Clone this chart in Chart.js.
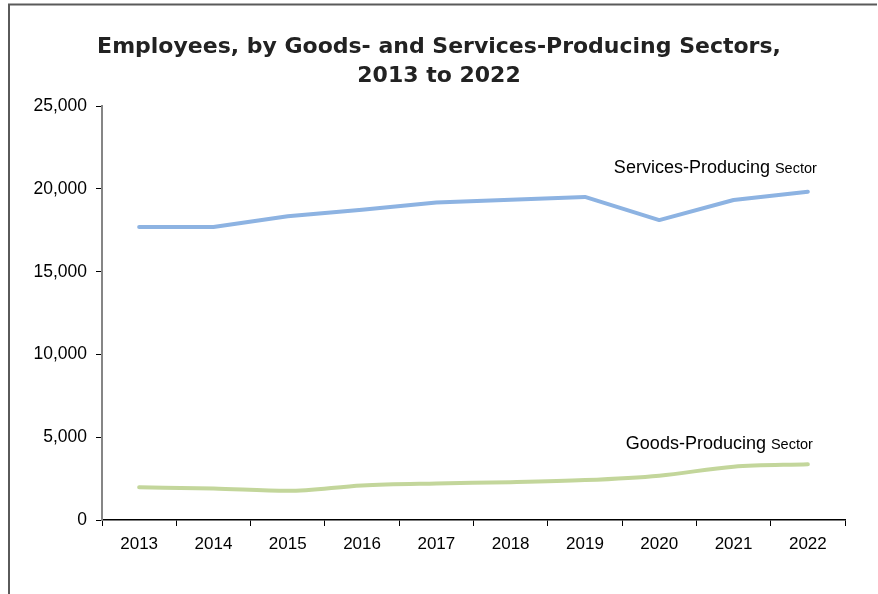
<!DOCTYPE html>
<html>
<head>
<meta charset="utf-8">
<script src="https://cdn.jsdelivr.net/npm/chart.js@4.4.1/dist/chart.umd.min.js"></script>
<style>
  html, body { margin: 0; padding: 0; background: #fff; }
  #wrap { width: 878px; height: 594px; position: relative; }
</style>
</head>
<body>
<div id="wrap"><canvas id="c" width="878" height="594"></canvas></div>
<script>
const years = ['2013','2014','2015','2016','2017','2018','2019','2020','2021','2022'];
const servicesProducing = [17700, 17700, 18350, 18750, 19180, 19350, 19520, 18120, 19330, 19830];
const goodsProducing = [1980, 1900, 1760, 2090, 2210, 2280, 2410, 2680, 3220, 3370];
const yTicks = [0, 5000, 10000, 15000, 20000, 25000];
const titleLines = ['Employees, by Goods- and Services-Producing Sectors,', '2013 to 2022'];

const frameAndLabels = {
  id: 'frameAndLabels',
  beforeDraw(chart) {
    const ctx = chart.ctx;
    ctx.save();
    ctx.strokeStyle = '#5a5a5a';
    ctx.lineWidth = 2;
    ctx.beginPath();
    ctx.moveTo(9, 600);
    ctx.lineTo(9, 4.5);
    ctx.lineTo(877, 4.5);
    ctx.stroke();
    ctx.restore();
  },
  afterDatasetsDraw(chart) {
    const ctx = chart.ctx;
    const xs = chart.scales.x, ys = chart.scales.y;
    const xLast = xs.getPixelForValue(years.length - 1);
    const bigFont = '18px "Liberation Sans", Arial, sans-serif';
    const smallFont = '14.5px "Liberation Sans", Arial, sans-serif';
    function label(big, small, yVal, dx) {
      const y = ys.getPixelForValue(yVal);
      ctx.save();
      ctx.fillStyle = '#000';
      ctx.textBaseline = 'alphabetic';
      ctx.textAlign = 'left';
      ctx.font = bigFont;
      const w1 = ctx.measureText(big).width;
      ctx.font = smallFont;
      const w2 = ctx.measureText(small).width;
      const x0 = xLast + dx - w1 - w2;
      ctx.font = bigFont;
      ctx.fillText(big, x0, y);
      ctx.font = smallFont;
      ctx.fillText(small, x0 + w1, y);
      ctx.restore();
    }
    label('Services-Producing ', 'Sector', 20980, 9);
    label('Goods-Producing ', 'Sector', 4290, 5);
  }
};

new Chart(document.getElementById('c'), {
  type: 'line',
  data: {
    labels: years,
    datasets: [
      {
        label: 'Services-Producing Sector',
        data: servicesProducing,
        borderColor: '#8db3e2',
        borderWidth: 4,
        pointRadius: 0,
        tension: 0,
        borderCapStyle: 'round',
        borderJoinStyle: 'round'
      },
      {
        label: 'Goods-Producing Sector',
        data: goodsProducing,
        borderColor: '#c3d69b',
        borderWidth: 4,
        pointRadius: 0,
        cubicInterpolationMode: 'monotone',
        borderCapStyle: 'round',
        borderJoinStyle: 'round'
      }
    ]
  },
  options: {
    responsive: false,
    animation: false,
    layout: { padding: { top: 33, right: 0, bottom: 31, left: 0 } },
    plugins: {
      legend: { display: false },
      tooltip: { enabled: false },
      title: {
        display: true,
        text: titleLines,
        color: '#222222',
        font: { family: '"DejaVu Sans", sans-serif', size: 22, weight: 'bold', lineHeight: 1.3 },
        padding: { top: 0, bottom: 16 }
      }
    },
    scales: {
      x: {
        offset: true,
        grid: { offset: true, drawOnChartArea: false, drawTicks: true, tickLength: 6, color: '#000', lineWidth: 1 },
        border: { display: true, color: '#000', width: 1.5 },
        ticks: { color: '#000', padding: 8, maxRotation: 0, font: { family: '"Liberation Sans", Arial, sans-serif', size: 17 } },
        afterFit(scale) { scale.height = 43; }
      },
      y: {
        min: 0,
        max: 25000,
        afterBuildTicks(scale) { scale.ticks = yTicks.map(v => ({ value: v })); },
        grid: { drawOnChartArea: false, drawTicks: true, tickLength: 6, color: '#000', lineWidth: 1 },
        border: { display: true, color: '#868686', width: 2 },
        ticks: {
          color: '#000',
          padding: 9,
          font: { family: '"Liberation Sans", Arial, sans-serif', size: 17.5 },
          callback: v => v.toLocaleString('en-US')
        },
        afterFit(scale) { scale.width = 102; }
      },
      yRight: {
        position: 'right',
        display: true,
        grid: { display: false },
        border: { display: false },
        ticks: { display: false },
        afterFit(scale) { scale.width = 33; }
      }
    }
  },
  plugins: [frameAndLabels]
});
</script>
</body>
</html>
